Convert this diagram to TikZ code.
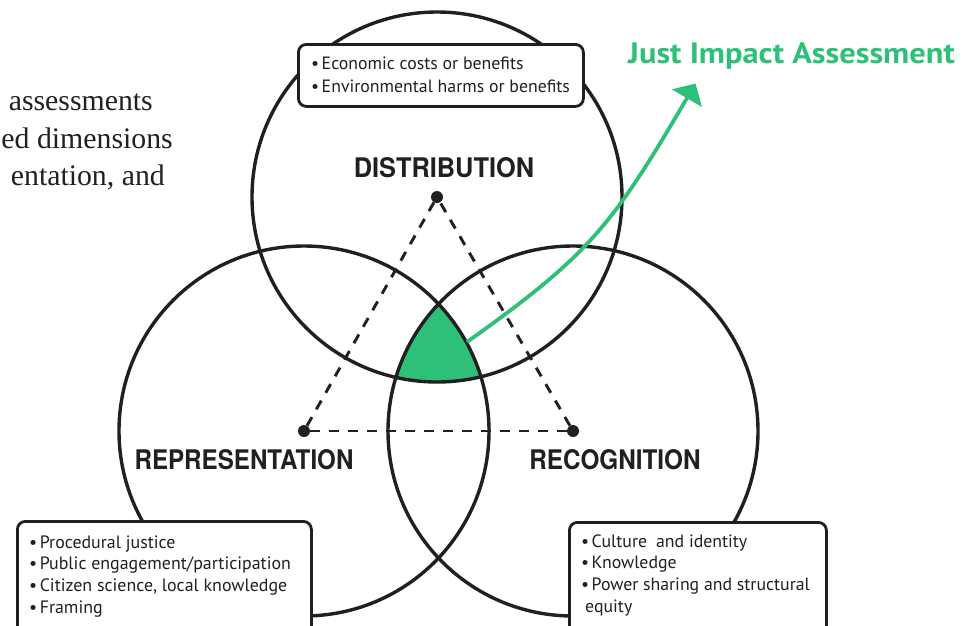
\documentclass[tikz,border=0pt]{standalone}
\usepackage{fontspec}
\setmainfont{PT Sans}
\newfontfamily\labelfont{TeX Gyre Heros}
\newfontfamily\proseserif{Liberation Serif}
\usetikzlibrary{arrows.meta}
\definecolor{ink}{HTML}{231F20}
\definecolor{justgreen}{RGB}{46,192,120}

\begin{document}
\begin{tikzpicture}[x=1pt,y=-1pt,
  ring/.style={circle, draw=ink, line width=3.4pt, minimum size=370pt, inner sep=0pt},
  hub/.style={circle, fill=ink, minimum size=12pt, inner sep=0pt},
  link/.style={draw=ink, line width=2.9pt, dash pattern=on 10pt off 9pt},
  dimlabel/.style={font=\labelfont\bfseries\fontsize{27}{27}\selectfont, text=ink, inner sep=0pt},
  listbox/.style={draw=ink, fill=white, line width=2.8pt, rounded corners=8pt, inner sep=0pt, anchor=north west},
  listtext/.style={text=ink, inner sep=0pt, anchor=base west},
  prose/.style={font=\proseserif\fontsize{29.8}{29.8}\selectfont, text=ink, inner sep=0pt, anchor=base east},
]
\useasboundingbox (0,0) rectangle (962,625);
\clip (0,0) rectangle (962,625);

% centres of the three justice dimensions
\coordinate (cD) at (437,197);
\coordinate (cP) at (304,431);
\coordinate (cR) at (573,431);

% common overlap of all three circles
\begin{scope}
  \clip (cD) circle[radius=185pt];
  \clip (cP) circle[radius=185pt];
  \fill[justgreen] (cR) circle[radius=185pt];
\end{scope}

% dashed triangle joining the centres
\node[hub] (hD) at (cD) {};
\node[hub] (hP) at (cP) {};
\node[hub] (hR) at (cR) {};
\draw[link] (hD) -- (hP);
\draw[link] (hP) -- (hR);
\draw[link] (hR) -- (hD);

% the three circles
\node[ring] (dist) at (cD) {};
\node[ring] (repr) at (cP) {};
\node[ring] (reco) at (cR) {};

% arrow out of the overlap
\coordinate (arrowstart) at (467,342);
\coordinate (arrowtip) at (695.5,83.5);
\draw[justgreen, line width=3.8pt, -{Triangle[length=17pt,width=34pt]}]
  (arrowstart) .. controls (589,255) and (611.5,227) .. (arrowtip);

\node[font=\bfseries\fontsize{29.5}{29.5}\selectfont, text=justgreen, anchor=base west,
  inner sep=0pt, xscale=1.1] (title) at (628,63) {Just Impact Assessment};

% dimension labels
\node[dimlabel, xscale=0.94] (lD) at (444,168) {DISTRIBUTION};
\node[dimlabel, xscale=0.895] (lP) at (244,460) {REPRESENTATION};
\node[dimlabel, xscale=0.90] (lR) at (615,460) {RECOGNITION};

% lists of aspects
\node[listbox, minimum width=285pt, minimum height=62pt] (boxD) at (297,43) {};
\node[listbox, minimum width=294pt, minimum height=140pt] (boxP) at (16,520) {};
\node[listbox, minimum width=257pt, minimum height=140pt] (boxR) at (568,521) {};

\node[listtext, font=\fontsize{17.8}{23}\selectfont] (txtD) at (311,69)
  {\begin{tabular}[t]{@{}l@{}}•\hspace{2.5pt}Economic costs or benefits\\
   •\hspace{2.5pt}Environmental harms or benefits\end{tabular}};
\node[listtext, font=\fontsize{17.9}{21.7}\selectfont] (txtP) at (29,548)
  {\begin{tabular}[t]{@{}l@{}}•\hspace{2.5pt}Procedural justice\\
   •\hspace{2.5pt}Public engagement/participation\\
   •\hspace{2.5pt}Citizen science, local knowledge\\
   •\hspace{2.5pt}Framing\end{tabular}};
\node[listtext, font=\fontsize{17.8}{21.7}\selectfont] (txtR) at (581,547)
  {\begin{tabular}[t]{@{}l@{}}•\hspace{2.5pt}Culture\hspace{9pt}and identity\\
   •\hspace{2.5pt}Knowledge\\
   •\hspace{2.5pt}Power sharing and structural\\
   \hspace{4pt}equity\end{tabular}};

% running text at the left margin
\node[prose] (p1) at (153,110) {assessments};
\node[prose] (p2) at (173,148) {ed dimensions};
\node[prose] (p3) at (165,185) {entation, and};
\end{tikzpicture}
\end{document}
